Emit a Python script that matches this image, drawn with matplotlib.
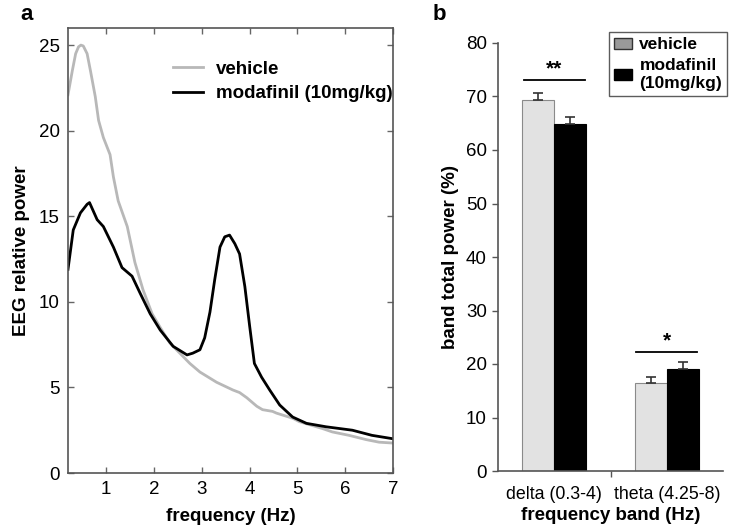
import matplotlib
matplotlib.use("Agg")
import matplotlib.pyplot as plt
from matplotlib.patches import Patch
import numpy as np

plt.rcParams['font.family'] = ['Liberation Sans', 'DejaVu Sans']

# ---- Panel a data: EEG relative power spectra ----
veh_freq = [0.2, 0.29, 0.36, 0.42, 0.47, 0.52, 0.6, 0.67, 0.77, 0.84, 0.94, 1.08, 1.15,
            1.25, 1.44, 1.6, 1.77, 1.96, 2.13, 2.33, 2.54, 2.75, 2.96, 3.31, 3.65, 3.79,
            3.94, 4.15, 4.27, 4.48, 4.56, 4.9, 5.04, 5.52, 5.73, 6.08, 6.44, 6.71, 7.0]
veh_power = [22.1, 23.5, 24.5, 24.9, 25.0, 24.95, 24.5, 23.5, 22.0, 20.6, 19.6, 18.6, 17.3,
             15.9, 14.4, 12.3, 10.7, 9.3, 8.5, 7.6, 7.0, 6.4, 5.9, 5.3, 4.85, 4.7,
             4.4, 3.9, 3.7, 3.6, 3.5, 3.2, 3.0, 2.6, 2.4, 2.2, 1.95, 1.8, 1.75]

mod_freq = [0.2, 0.31, 0.46, 0.6, 0.65, 0.81, 0.94, 1.15, 1.33, 1.54, 1.71, 1.92, 2.13, 2.4,
            2.69, 2.81, 2.96, 3.06, 3.17, 3.27, 3.38, 3.48, 3.58, 3.69, 3.79, 3.9, 4.0,
            4.1, 4.25, 4.42, 4.63, 4.9, 5.19, 5.6, 6.15, 6.56, 7.0]
mod_power = [11.9, 14.2, 15.2, 15.7, 15.8, 14.8, 14.4, 13.2, 12.0, 11.5, 10.5, 9.3, 8.35, 7.4,
             6.9, 7.0, 7.2, 7.9, 9.4, 11.3, 13.2, 13.8, 13.9, 13.4, 12.8, 10.9, 8.6,
             6.4, 5.6, 4.85, 3.97, 3.27, 2.9, 2.7, 2.5, 2.2, 2.0]

# ---- Panel b data: band total power ----
bands = ['delta (0.3-4)', 'theta (4.25-8)']
veh_band = [69.3, 16.4]
veh_err = [1.3, 1.2]
mod_band = [64.8, 19.0]
mod_err = [1.3, 1.4]
sig_labels = ['**', '*']
sig_heights = [73.1, 22.2]

FS = 13.5

fig = plt.figure(figsize=(7.31, 5.30), dpi=100)

# ---------------- Panel a ----------------
ax1 = fig.add_axes([68/731, 1-473/530, 325/731, 445/530])
ax1.plot(veh_freq, veh_power, color='#b8b8b8', lw=2.0, label='vehicle')
ax1.plot(mod_freq, mod_power, color='black', lw=2.0, label='modafinil (10mg/kg)')
ax1.set_xlim(0.2, 7)
ax1.set_ylim(0, 26)
ax1.set_xticks([1, 2, 3, 4, 5, 6, 7])
ax1.set_yticks([0, 5, 10, 15, 20, 25])
ax1.tick_params(direction='in', top=True, right=True, length=4, width=1,
                color='#666666', labelsize=FS, pad=6)
for s in ax1.spines.values():
    s.set_color('#555555')
    s.set_linewidth(1.2)
ax1.set_xlabel('frequency (Hz)', fontsize=FS, fontweight='bold', labelpad=7)
ax1.set_ylabel('EEG relative power', fontsize=FS, fontweight='bold', labelpad=6)
leg1 = ax1.legend(loc='upper left', bbox_to_anchor=(0.27, 0.965), frameon=False,
                  prop={'weight': 'bold', 'size': FS}, handlelength=1.6,
                  handletextpad=0.7, labelspacing=0.4)
fig.text(20/731, 1-15/530, 'a', fontsize=16, fontweight='bold', va='center', ha='left')

# ---------------- Panel b ----------------
ax2 = fig.add_axes([498/731, 1-471/530, 225/731, 428/530])
x = np.arange(len(bands))
w = 0.285
ax2.bar(x - w/2, veh_band, width=w, color='#e2e2e2', edgecolor='#8a8a8a', linewidth=0.8,
        yerr=[[0, 0], veh_err], capsize=3.5, error_kw={'ecolor': '#333333', 'elinewidth': 1.2, 'capthick': 1.2})
ax2.bar(x + w/2, mod_band, width=w, color='black', edgecolor='black', linewidth=0.8,
        yerr=[[0, 0], mod_err], capsize=3.5, error_kw={'ecolor': '#333333', 'elinewidth': 1.2, 'capthick': 1.2})
for xi, lab, h in zip(x, sig_labels, sig_heights):
    ax2.plot([xi - w*0.95, xi + w*0.95], [h, h], color='black', lw=1.3)
    ax2.text(xi, h + 0.3, lab, ha='center', va='bottom', fontsize=15, fontweight='bold')
ax2.set_xlim(-0.5, 1.5)
ax2.set_ylim(0, 80)
ax2.set_yticks(range(0, 81, 10))
ax2.set_xticks(x)
ax2.set_xticklabels(bands)
ax2.set_xticks([0.5], minor=True)
ax2.tick_params(axis='x', which='major', length=0, labelsize=12.8, pad=11)
ax2.tick_params(axis='x', which='minor', length=4, width=1, color='#555555')
ax2.tick_params(axis='y', length=4, width=1, color='#555555', labelsize=FS, pad=4)
for s in ['top', 'right']:
    ax2.spines[s].set_visible(False)
for s in ['left', 'bottom']:
    ax2.spines[s].set_color('#555555')
    ax2.spines[s].set_linewidth(1.2)
ax2.set_xlabel('frequency band (Hz)', fontsize=FS, fontweight='bold', labelpad=3)
ax2.set_ylabel('band total power (%)', fontsize=FS, fontweight='bold', labelpad=5)
handles = [Patch(facecolor='#9a9a9a', edgecolor='#333333', label='vehicle'),
           Patch(facecolor='black', edgecolor='black', label='modafinil\n(10mg/kg)')]
leg2 = fig.legend(handles=handles, loc='upper left', bbox_to_anchor=(609/731, 1-32/530),
                  frameon=True, fancybox=False, edgecolor='#333333',
                  prop={'weight': 'bold', 'size': 12.5}, handlelength=1.0, handleheight=0.6,
                  handletextpad=0.45, labelspacing=0.35, borderpad=0.3, borderaxespad=0)
leg2.get_frame().set_linewidth(1.0)
fig.text(433/731, 1-15/530, 'b', fontsize=16, fontweight='bold', va='center', ha='left')

fig.savefig('out.png', dpi=100)
